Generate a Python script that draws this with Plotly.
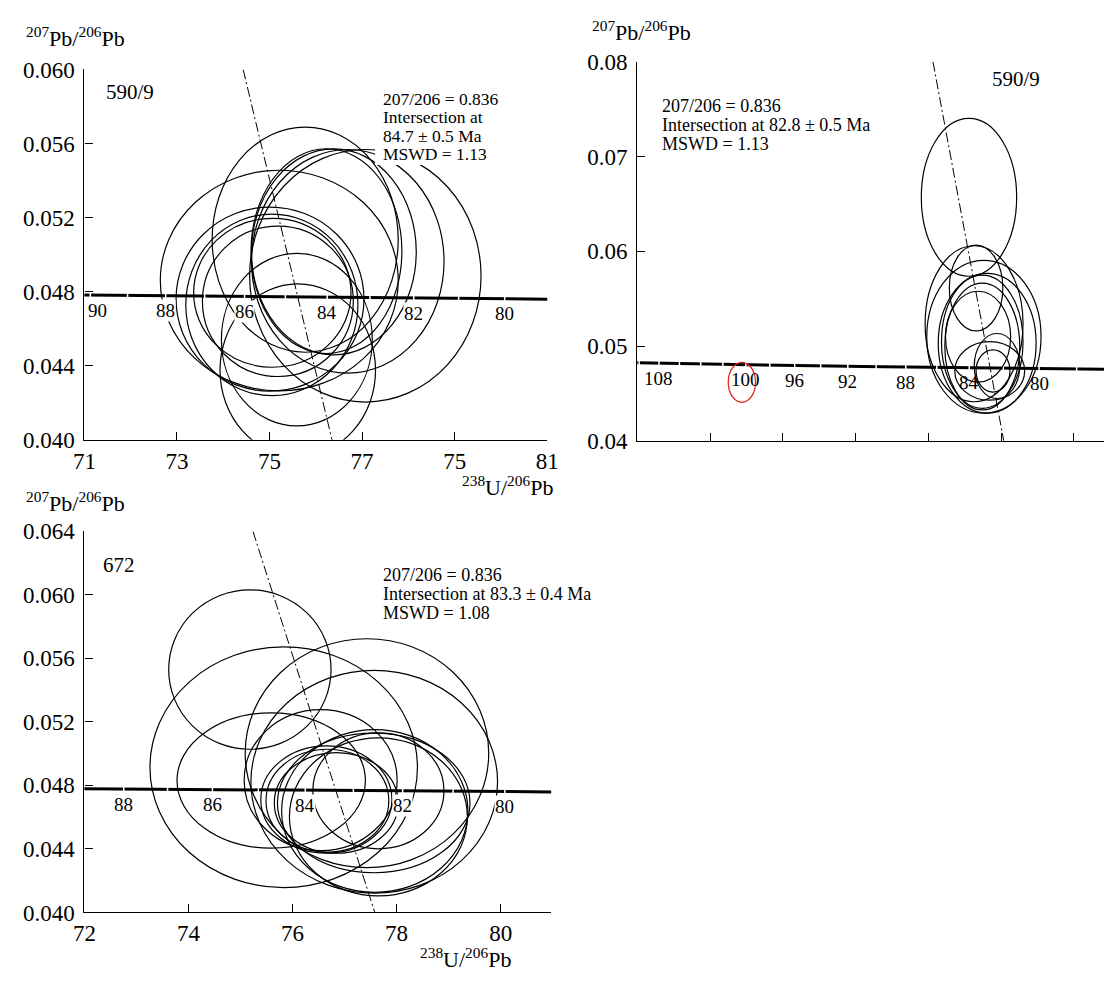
import plotly.graph_objects as go

W, H = 1116, 981
FONT = "Liberation Serif"

# ---------------- data ----------------
# Concordia points: age (Ma), 238U/206Pb, 207Pb/206Pb
conc_age = [112, 110, 108, 106, 104, 102, 100, 98, 96, 94, 92, 91, 90, 89, 88, 87,
            86, 85, 84, 83, 82, 81, 80, 79, 78, 77, 76]
conc_x = [57.059, 58.105, 59.191, 60.317, 61.486, 62.702, 63.966, 65.281, 66.652,
          68.080, 69.571, 70.341, 71.128, 71.932, 72.756, 73.598, 74.460, 75.342,
          76.245, 77.169, 78.116, 79.086, 80.081, 81.101, 82.148, 83.220, 84.322]
conc_y = [0.048260, 0.048219, 0.048178, 0.048137, 0.048096, 0.048056, 0.048015,
          0.047975, 0.047934, 0.047894, 0.047853, 0.047833, 0.047813, 0.047792,
          0.047772, 0.047752, 0.047732, 0.047712, 0.047692, 0.047672, 0.047651,
          0.047631, 0.047611, 0.047591, 0.047571, 0.047550, 0.047530]

tl_tick_ages = [90, 89, 88, 87, 86, 85, 84, 83, 82, 81, 80]
tl_label_ages = [90, 88, 86, 84, 82, 80]
tr_tick_ages = [110, 108, 106, 104, 102, 100, 98, 96, 94, 92, 90, 88, 86, 84, 82, 80, 78]
tr_label_ages = [108, 100, 96, 92, 88, 84, 80]
bt_tick_ages = [89, 88, 87, 86, 85, 84, 83, 82, 81, 80, 79]
bt_label_ages = [88, 86, 84, 82, 80]

# Error ellipses: centre and semi-axes (238U/206Pb, 207Pb/206Pb)
tl_cx = [75.77, 75.21, 76.23, 76.39, 76.69, 77.07, 75.01, 75.05, 75.06, 75.18, 75.59, 75.61]
tl_cy = [0.05081, 0.04860, 0.05019, 0.05015, 0.04964, 0.04886, 0.04760, 0.04729,
         0.04794, 0.04748, 0.04541, 0.04376]
tl_rx = [2.01, 2.57, 1.63, 1.78, 2.08, 2.50, 2.03, 1.86, 1.70, 1.63, 1.63, 1.68]
tl_ry = [0.00608, 0.00596, 0.00553, 0.00556, 0.00604, 0.00682, 0.00497, 0.00490,
         0.00402, 0.00406, 0.00466, 0.00466]

tr_cx = [76.23, 76.62, 76.51, 77.05, 77.23, 76.96, 76.96, 76.73, 77.37, 77.77, 77.55]
tr_cy = [0.06569, 0.05612, 0.05235, 0.05098, 0.05029, 0.05046, 0.04995, 0.05098,
         0.04737, 0.04789, 0.04737]
tr_rx = [2.62, 1.47, 2.69, 3.14, 2.69, 2.24, 2.06, 1.79, 1.92, 1.25, 0.93]
tr_ry = [0.00833, 0.00453, 0.00823, 0.00806, 0.00737, 0.00703, 0.00669, 0.00480,
         0.00309, 0.00343, 0.00223]

bt_cx = [75.18, 75.83, 77.43, 77.57, 75.59, 76.54, 77.58, 77.56, 77.65, 76.65, 76.67, 76.84, 77.65]
bt_cy = [0.05530, 0.04915, 0.05003, 0.04823, 0.04831, 0.04833, 0.04639, 0.04690,
         0.04602, 0.04711, 0.04704, 0.04690, 0.04766]
bt_rx = [1.56, 2.57, 2.34, 2.37, 1.81, 1.47, 1.79, 1.85, 1.71, 1.26, 1.18, 1.19, 1.26]
bt_ry = [0.00502, 0.00758, 0.00721, 0.00702, 0.00426, 0.00444, 0.00512, 0.00440,
         0.00498, 0.00338, 0.00324, 0.00317, 0.00365]

# highlighted (red) mark around the 100 Ma label
red_cx, red_cy, red_rx, red_ry = 63.75, 0.04617, 0.75, 0.00211

# Regression (discordia) lines
reg_tl_x = [74.43, 76.35]
reg_tl_y = [0.0600, 0.0400]
reg_tr_x = [74.25, 78.14]
reg_tr_y = [0.0800, 0.0400]
reg_bt_x = [75.24, 77.58]
reg_bt_y = [0.0640, 0.0400]

# Axis ticks
tl_xticks = [71, 73, 75, 77, 79, 81]
tl_xticktext = ["71", "73", "75", "77", "75", "81"]
tl_yticks = [0.040, 0.044, 0.048, 0.052, 0.056, 0.060]
tr_xticks = [62, 66, 70, 74, 78, 82]
tr_yticks = [0.04, 0.05, 0.06, 0.07, 0.08]
bt_xticks = [72, 74, 76, 78, 80]
bt_yticks = [0.040, 0.044, 0.048, 0.052, 0.056, 0.060, 0.064]

# Text
ytitle = "<sup>207</sup>Pb/<sup>206</sup>Pb"
xtitle = "<sup>238</sup>U/<sup>206</sup>Pb"
tl_text = ["207/206 = 0.836", "Intersection at", "84.7 \u00b1 0.5 Ma", "MSWD = 1.13"]
tr_text = ["207/206 = 0.836", "Intersection at 82.8 \u00b1 0.5 Ma", "MSWD = 1.13"]
bt_text = ["207/206 = 0.836", "Intersection at 83.3 \u00b1 0.4 Ma", "MSWD = 1.08"]

# ---------------- figure ----------------
def px(x):
    return x / W

def py(y):
    return 1 - y / H

conc = {a: (x, y) for a, x, y in zip(conc_age, conc_x, conc_y)}

fig = go.Figure()
shapes = []
annotations = []

panels = [
    ("x", "y", tl_tick_ages, tl_label_ages, reg_tl_x, reg_tl_y, tl_cx, tl_cy, tl_rx, tl_ry, True),
    ("x2", "y2", tr_tick_ages, tr_label_ages, reg_tr_x, reg_tr_y, tr_cx, tr_cy, tr_rx, tr_ry, False),
    ("x3", "y3", bt_tick_ages, bt_label_ages, reg_bt_x, reg_bt_y, bt_cx, bt_cy, bt_rx, bt_ry, True),
]

for xa, ya, tick_ages, label_ages, rx_, ry_, cx, cy, rx, ry, label_bg in panels:
    fig.add_trace(go.Scatter(x=conc_x, y=conc_y, mode="lines", xaxis=xa, yaxis=ya,
                             line=dict(color="black", width=3), hoverinfo="skip",
                             showlegend=False))
    fig.add_trace(go.Scatter(x=[conc[a][0] for a in tick_ages],
                             y=[conc[a][1] for a in tick_ages],
                             mode="markers", xaxis=xa, yaxis=ya,
                             marker=dict(symbol="line-ns", size=6,
                                         line=dict(color="white", width=1.5)),
                             hoverinfo="skip", showlegend=False))
    fig.add_trace(go.Scatter(x=rx_, y=ry_, mode="lines", xaxis=xa, yaxis=ya,
                             line=dict(color="black", width=1, dash="10px,3px,2px,3px"),
                             hoverinfo="skip", showlegend=False))
    for a, b, r1, r2 in zip(cx, cy, rx, ry):
        shapes.append(dict(type="circle", xref=xa, yref=ya,
                           x0=a - r1, x1=a + r1, y0=b - r2, y1=b + r2,
                           line=dict(color="black", width=1.2), layer="above"))
    for a in label_ages:
        annotations.append(dict(x=conc[a][0], y=conc[a][1], xref=xa, yref=ya,
                                text=str(a), showarrow=False, yshift=-15,
                                xshift=7 if a == 90 else 0,
                                font=dict(family=FONT, size=19, color="black"),
                                bgcolor="white" if label_bg else "rgba(0,0,0,0)",
                                borderpad=0))

shapes.append(dict(type="circle", xref="x2", yref="y2",
                   x0=red_cx - red_rx, x1=red_cx + red_rx,
                   y0=red_cy - red_ry, y1=red_cy + red_ry,
                   line=dict(color="#e0231c", width=1.3), layer="above"))

shapes.append(dict(type="rect", xref="paper", yref="paper",
                   x0=px(371), x1=px(520), y0=py(157), y1=py(76),
                   fillcolor="white", line=dict(width=0), layer="above"))

def txt(x, y, s, size, xanchor="left"):
    annotations.append(dict(x=px(x), y=py(y), xref="paper", yref="paper", text=s,
                            showarrow=False, xanchor=xanchor, yanchor="middle",
                            font=dict(family=FONT, size=size, color="black")))

for i, s in enumerate(tl_text):
    txt(377, 89 + 19 * i, s, 17.5)
for i, s in enumerate(tr_text):
    txt(662, 96 + 19.5 * i, s, 18)
for i, s in enumerate(bt_text):
    txt(377, 578 + 19.5 * i, s, 18)

txt(121, 82, "590/9", 21, "center")
txt(1026, 69, "590/9", 21, "center")
txt(109, 567, "672", 21, "center")

txt(12, 26, ytitle, 22)
txt(591, 20, ytitle, 22)
txt(12, 503, ytitle, 22)
txt(555, 486, xtitle, 22, "right")
txt(512, 971, xtitle, 22, "right")

axis_common = dict(showgrid=False, zeroline=False, showline=True, linecolor="black",
                   linewidth=1.3, ticks="inside", ticklen=8, tickwidth=1.3,
                   tickcolor="black", mirror=False,
                   tickfont=dict(family=FONT, size=23, color="black"))

fig.update_layout(
    width=W, height=H, margin=dict(l=0, r=0, t=0, b=0),
    font=dict(family=FONT, size=18, color="black"),
    paper_bgcolor="white", plot_bgcolor="white", showlegend=False,
    shapes=shapes, annotations=annotations,
    xaxis=dict(axis_common, domain=[px(74), px(547)], range=[71, 81], anchor="y",
               tickvals=tl_xticks, ticktext=tl_xticktext),
    yaxis=dict(axis_common, domain=[py(439), py(59)], range=[0.040, 0.060], anchor="x",
               tickvals=tl_yticks, tickformat=".3f", ticklabelstandoff=4),
    xaxis2=dict(axis_common, domain=[px(639), 1.0], range=[58, 83.65], anchor="y2",
                tickvals=tr_xticks, showticklabels=False),
    yaxis2=dict(axis_common, domain=[py(440), py(51)], range=[0.04, 0.08], anchor="x2",
                tickvals=tr_yticks, tickformat=".2f", ticklabelstandoff=4),
    xaxis3=dict(axis_common, domain=[px(74), px(551)], range=[72, 80.97], anchor="y3",
                tickvals=bt_xticks),
    yaxis3=dict(axis_common, domain=[py(924), py(533)], range=[0.040, 0.064], anchor="x3",
                tickvals=bt_yticks, tickformat=".3f", ticklabelstandoff=4),
)

fig.write_html("out.html", config={"displayModeBar": False},
               post_script="document.body.style.margin='0px';")
